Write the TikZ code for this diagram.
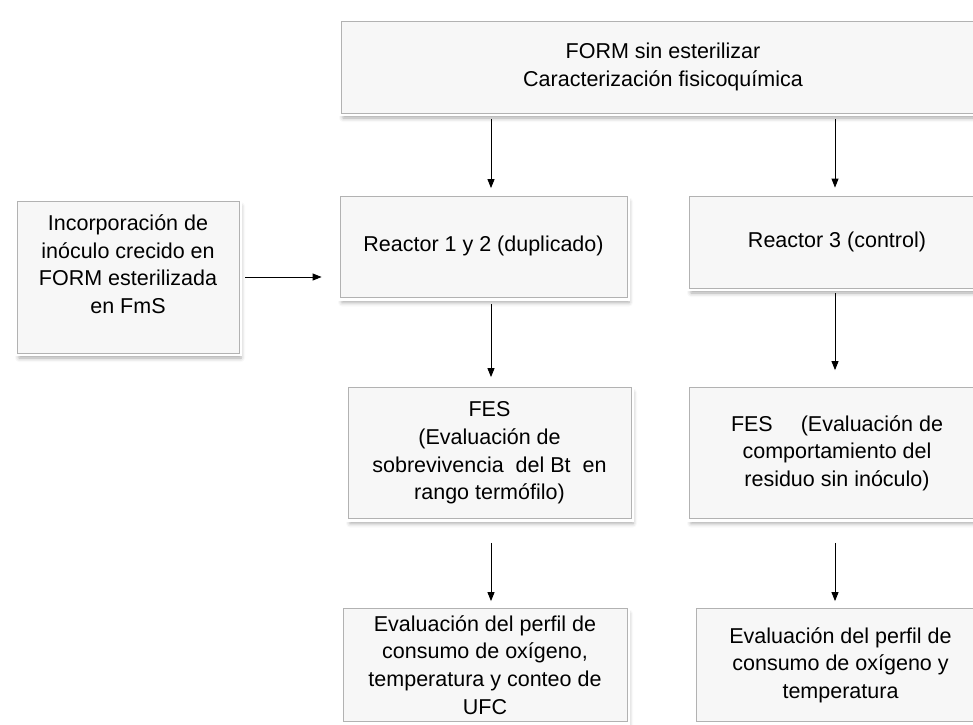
\documentclass[tikz,border=0pt]{standalone}
\usepackage{fontspec}
\setmainfont{Liberation Sans}
\usetikzlibrary{arrows.meta,positioning,shadows.blur}

\begin{document}
\begin{tikzpicture}[
  x=1pt,y=-1pt,
  box/.style={draw=gray!60,fill=gray!6,line width=0.8pt,align=center,inner sep=0pt,
    font=\fontsize{21.5}{27.7}\selectfont,
    blur shadow={shadow xshift=2pt,shadow yshift=-5pt,shadow opacity=35,shadow blur radius=4pt},
    preaction={draw=white,line width=6pt}},
  arr/.style={-{Triangle[length=9pt,width=7pt]},line width=0.9pt}
]
\clip (0,0) rectangle (973,724);
% columns of the vertical arrows
\coordinate (colA) at (491,0);
\coordinate (colB) at (835,0);

\node[box,minimum width=644pt,minimum height=92pt] (form) at (663,67) {FORM sin esterilizar\\Caracterización fisicoquímica};
\node[box,minimum width=222pt,minimum height=152pt] (inoc) at (128,277) {Incorporación de\\inóculo crecido en\\FORM esterilizada\\en FmS\\[-2pt]\mbox{}};
\node[box,minimum width=287pt,minimum height=101pt] (r12) at (483.5,247) {\mbox{}\\[-14pt]Reactor 1 y 2 (duplicado)};
\node[box,minimum width=296pt,minimum height=92pt] (r3) at (837,242) {Reactor 3 (control)};
\node[box,minimum width=283pt,minimum height=131pt] (fes1) at (489.5,453) {FES\\(Evaluación de\\sobrevivencia\ \ del Bt\ \ en\\rango termófilo)};
\node[box,minimum width=296pt,minimum height=131pt] (fes2) at (837,453) {FES\hspace{1.3em}(Evaluación de\\comportamiento del\\residuo sin inóculo)};
\node[box,minimum width=284pt,minimum height=113pt] (ufc1) at (485,665) {Evaluación del perfil de\\consumo de oxígeno,\\temperatura y conteo de\\UFC};
\node[box,minimum width=289pt,minimum height=113pt] (ufc2) at (840.5,665) {Evaluación del perfil de\\consumo de oxígeno y\\temperatura};

\draw[arr,shorten <=6pt,shorten >=8pt] (form.south -| colA) -- (r12.north -| colA);
\draw[arr,shorten <=6pt,shorten >=8pt] (form.south -| colB) -- (r3.north -| colB);
\draw[arr,shorten <=6pt,shorten >=18pt] (inoc.east) -- (inoc.east -| r12.west);
\draw[arr,shorten <=6pt,shorten >=10pt] (r12.south -| colA) -- (fes1.north -| colA);
\draw[arr,shorten <=5pt,shorten >=17pt] (r3.south -| colB) -- (fes2.north -| colB);
\draw[arr,shorten <=24pt,shorten >=7pt] (fes1.south -| colA) -- (ufc1.north -| colA);
\draw[arr,shorten <=24pt,shorten >=7pt] (fes2.south -| colB) -- (ufc2.north -| colB);
\end{tikzpicture}
\end{document}
